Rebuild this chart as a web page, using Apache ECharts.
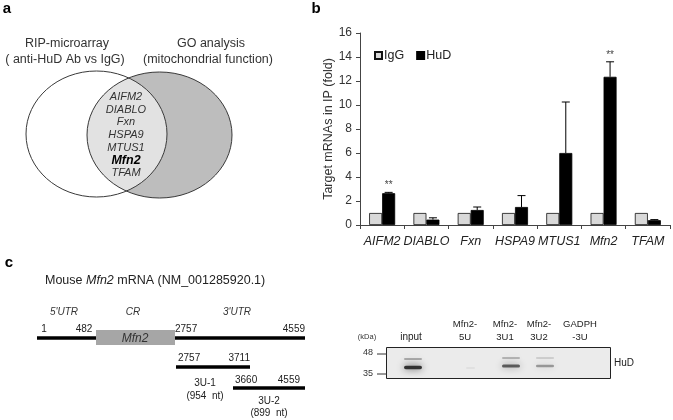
<!DOCTYPE html>
<html><head><meta charset="utf-8">
<script src="https://cdn.jsdelivr.net/npm/echarts@6/dist/echarts.min.js"></script>
<style>html,body{margin:0;padding:0;background:#fff}#c{width:673px;height:420px}</style>
</head><body><div id="c"></div>
<script>
// ---- data ----
var categories = ['AIFM2','DIABLO','Fxn','HSPA9','MTUS1','Mfn2','TFAM'];
var igg = [1,1,1,1,1,1,1];
var hud = [2.65,0.45,1.25,1.5,6.0,12.35,0.4];
var hudErr = [0.07,0.15,0.25,0.95,4.25,1.25,0.05];
var sig = ['**','','','','','**',''];
var yTicks = [0,2,4,6,8,10,12,14,16];
var vennGenes = ['AIFM2','DIABLO','Fxn','HSPA9','MTUS1','Mfn2','TFAM'];
var blotLanes = [['input',''],['Mfn2-','5U'],['Mfn2-','3U1'],['Mfn2-','3U2'],['GADPH','-3U']];
var blotMarkers = ['48','35'];

var FONT = '"Liberation Sans", Arial, sans-serif';
var chart = echarts.init(document.getElementById('c'), null, {renderer:'canvas'});

// ---- Venn lens polygon ----
function ellipsePts(cx, cy, rx, ry, t0, t1, n){
  var p=[]; for(var i=0;i<=n;i++){var t=t0+(t1-t0)*i/n; p.push([cx+rx*Math.cos(t), cy+ry*Math.sin(t)]);} return p;
}
function inside(pt, cx, cy, rx, ry){var dx=(pt[0]-cx)/rx, dy=(pt[1]-cy)/ry; return dx*dx+dy*dy<=1;}
var L = {cx:96.5, cy:134, rx:70.5, ry:63};
var R = {cx:159.5, cy:135, rx:72.5, ry:63};
var lensL = ellipsePts(L.cx,L.cy,L.rx,L.ry,-Math.PI/2,Math.PI/2,360).filter(function(p){return inside(p,R.cx,R.cy,R.rx,R.ry);});
var lensR = ellipsePts(R.cx,R.cy,R.rx,R.ry,Math.PI/2,3*Math.PI/2,360).filter(function(p){return inside(p,L.cx,L.cy,L.rx,L.ry);});
var lens = lensL.concat(lensR);

var g = [];
function txt(x,y,s,opt){
  opt=opt||{};
  g.push({type:'text', x:x, y:y, z:opt.z||10, style:{text:s, fill:opt.color||'#222', font:(opt.style||'normal')+' '+(opt.weight||'normal')+' '+(opt.size||12)+'px '+FONT, textAlign:opt.align||'center', textVerticalAlign:'middle'}});
}
// panel letters
txt(7,9,'a',{weight:'bold',size:15,color:'#000'});
txt(316,9,'b',{weight:'bold',size:15,color:'#000'});
txt(9,263,'c',{weight:'bold',size:15,color:'#000'});

// Venn
g.push({type:'ellipse', shape:{cx:L.cx,cy:L.cy,rx:L.rx,ry:L.ry}, style:{fill:'#fff',stroke:'none'}, z:1});
g.push({type:'ellipse', shape:{cx:R.cx,cy:R.cy,rx:R.rx,ry:R.ry}, style:{fill:'#bdbdbd',stroke:'none'}, z:1});
g.push({type:'polygon', shape:{points:lens}, style:{fill:'#e2e2e2',stroke:'none'}, z:2});
g.push({type:'ellipse', shape:{cx:L.cx,cy:L.cy,rx:L.rx,ry:L.ry}, style:{fill:'none',stroke:'#3a3a3a',lineWidth:1}, z:3});
g.push({type:'ellipse', shape:{cx:R.cx,cy:R.cy,rx:R.rx,ry:R.ry}, style:{fill:'none',stroke:'#3a3a3a',lineWidth:1}, z:3});
txt(67,44,'RIP-microarray',{size:12.5,color:'#333'});
txt(65,60,'( anti-HuD Ab vs IgG)',{size:12.5,color:'#333'});
txt(211,44,'GO analysis',{size:12.5,color:'#333'});
txt(208,60,'(mitochondrial function)',{size:12.5,color:'#333'});
vennGenes.forEach(function(s,i){
  var bold = s==='Mfn2';
  txt(126, 97+i*12.7, s, {style:'italic', weight:bold?'bold':'normal', size:bold?12.5:11, color:bold?'#000':'#333'});
});

// Panel c gene diagram
g.push({type:'text', x:45, y:281, z:10, style:{text:'{n|Mouse }{i|Mfn2}{n| mRNA (NM_001285920.1)}', textVerticalAlign:'middle', rich:{n:{font:'12.5px '+FONT, fill:'#222'}, i:{font:'italic 12.5px '+FONT, fill:'#222'}}}});
txt(64,312,"5'UTR",{style:'italic',size:10,color:'#333'});
txt(133,312,'CR',{style:'italic',size:10,color:'#333'});
txt(237,312,"3'UTR",{style:'italic',size:10,color:'#333'});
txt(44,329,'1',{size:10,align:'center'});
txt(84,329,'482',{size:10});
txt(175,329,'2757',{size:10,align:'left'});
txt(305,329,'4559',{size:10,align:'right'});
g.push({type:'line', shape:{x1:37,y1:338,x2:305,y2:338}, style:{stroke:'#000',lineWidth:3.5}, z:4});
g.push({type:'rect', shape:{x:96,y:330,width:79,height:15}, style:{fill:'#a6a6a6',stroke:'none'}, z:5});
txt(135,339,'Mfn2',{style:'italic',size:12,color:'#333'});
g.push({type:'line', shape:{x1:176,y1:367,x2:250,y2:367}, style:{stroke:'#000',lineWidth:3.5}, z:4});
txt(178,358,'2757',{size:10,align:'left'});
txt(250,358,'3711',{size:10,align:'right'});
txt(205,383,'3U-1',{size:10});
txt(205,396,'(954  nt)',{size:10});
g.push({type:'line', shape:{x1:233,y1:388,x2:305,y2:388}, style:{stroke:'#000',lineWidth:3.5}, z:4});
txt(235,380,'3660',{size:10,align:'left'});
txt(300,380,'4559',{size:10,align:'right'});
txt(269,401,'3U-2',{size:10});
txt(269,413,'(899  nt)',{size:10});

// Western blot
g.push({type:'rect', shape:{x:386.5,y:347.5,width:224,height:31}, style:{fill:'#ebebeb',stroke:'#222',lineWidth:1}, z:4});
txt(367,337,'(kDa)',{size:7.5,color:'#333'});
txt(368,353,blotMarkers[0],{size:9,color:'#333'});
txt(368,374,blotMarkers[1],{size:9,color:'#333'});
g.push({type:'line', shape:{x1:377,y1:354,x2:387,y2:354}, style:{stroke:'#333',lineWidth:1}, z:4});
g.push({type:'line', shape:{x1:377,y1:374,x2:387,y2:374}, style:{stroke:'#333',lineWidth:1}, z:4});
var laneX = [411,465,505,539,580];
blotLanes.forEach(function(l,i){
  if(l[1]===''){ txt(laneX[i],337,l[0],{size:10,color:'#222'}); }
  else { txt(laneX[i],324,l[0],{size:9.5,color:'#222'}); txt(laneX[i],337,l[1],{size:9.5,color:'#222'}); }
});
txt(614,363,'HuD',{size:10,align:'left',color:'#222'});
function band(x1,x2,cy,h,a){
  var c='rgba(25,25,25,'+a+')';
  g.push({type:'rect', shape:{x:x1+3,y:cy-h/2,width:x2-x1-6,height:h,r:h/2}, z:6,
    style:{fill:c, shadowBlur:7, shadowColor:c}});
}
band(401,425,359,2,0.3); band(401,425,367.5,3.5,0.85);
band(463,478,368,1.5,0.06);
band(499,523,358,2,0.25); band(499,523,366,3,0.65);
band(533,557,358,1.5,0.18); band(533,557,366,2.5,0.38);

// ---- bar chart ----
var errData = categories.map(function(c,i){return [i, hud[i], hud[i]+hudErr[i], sig[i]];});
var option = {
  animation:false,
  backgroundColor:'#fff',
  textStyle:{fontFamily:FONT},
  grid:{left:360, right:3, top:33, bottom:195, containLabel:false},
  legend:{left:369, top:44, itemWidth:7, itemHeight:7, itemGap:12, icon:'rect',
    textStyle:{fontSize:12.5, color:'#222', fontFamily:FONT, padding:[0,0,0,-3]},
    data:['IgG','HuD']},
  xAxis:{type:'category', data:categories,
    axisLine:{lineStyle:{color:'#444',width:1}},
    axisTick:{show:true, length:4, lineStyle:{color:'#444'}},
    axisLabel:{fontStyle:'italic', fontSize:12.5, color:'#222', margin:10, interval:0, fontFamily:FONT}},
  yAxis:{type:'value', min:0, max:16, interval:2,
    name:'Target mRNAs in IP (fold)', nameLocation:'middle', nameGap:25, nameRotate:90,
    nameTextStyle:{fontSize:12.5, color:'#333', fontFamily:FONT},
    axisLine:{show:true, lineStyle:{color:'#444',width:1}},
    axisTick:{show:true, length:4, lineStyle:{color:'#444'}},
    axisLabel:{fontSize:12, color:'#333', margin:8, fontFamily:FONT,
      formatter:function(v){return yTicks.indexOf(v)>=0?String(v):'';}},
    splitLine:{show:false}},
  series:[
    {name:'IgG', type:'bar', data:igg, barWidth:13, barGap:'0%',
      itemStyle:{color:'#d9d9d9', borderColor:'#111', borderWidth:0.8}},
    {name:'HuD', type:'bar', data:hud, barWidth:13,
      itemStyle:{color:'#000', borderColor:'#000', borderWidth:0.8}},
    {name:'err', type:'custom', data:errData, z:5,
      renderItem:function(params, api){
        var b = api.coord([api.value(0), api.value(1)]);
        var t = api.coord([api.value(0), api.value(2)]);
        var x = b[0] + 6.5;
        var s = errData[params.dataIndex][3];
        var ch = [
          {type:'line', shape:{x1:x,y1:b[1],x2:x,y2:t[1]}, style:{stroke:'#000',lineWidth:1}},
          {type:'line', shape:{x1:x-4,y1:t[1],x2:x+4,y2:t[1]}, style:{stroke:'#000',lineWidth:1}}
        ];
        if(s){ ch.push({type:'text', x:x, y:t[1]-7, style:{text:s, fill:'#444', font:'10px '+FONT, textAlign:'center', textVerticalAlign:'middle'}}); }
        return {type:'group', children:ch};
      }}
  ],
  graphic:g
};
chart.setOption(option);
</script>
</body></html>
